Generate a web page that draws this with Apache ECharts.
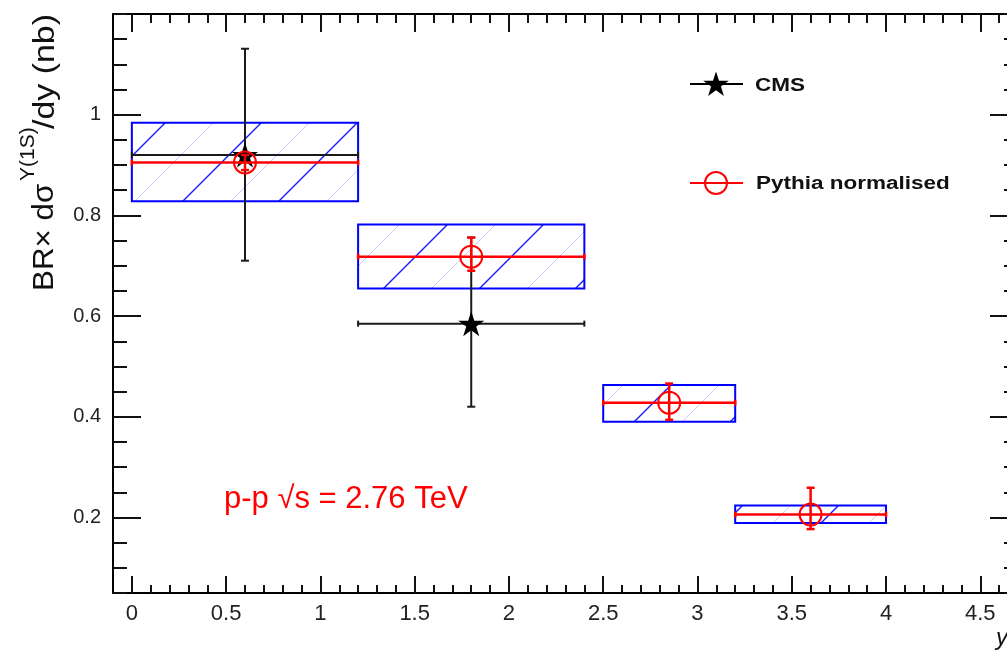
<!DOCTYPE html>
<html><head><meta charset="utf-8">
<script src="https://cdn.jsdelivr.net/npm/echarts@6/dist/echarts.min.js"></script>
<style>html,body{margin:0;padding:0;background:#fff}#c{width:1007px;height:652px}</style>
</head><body><div id="c"></div>
<script>
// ---- data ----
const binLow = [0, 1.2, 2.5, 3.2];
const binHigh = [1.2, 2.4, 3.2, 4.0];
const pythiaX = [0.6, 1.8, 2.85, 3.6];
const pythiaY = [0.905, 0.718, 0.428, 0.206];
const pythiaErrLow = [0.89, 0.69, 0.394, 0.177];
const pythiaErrHigh = [0.92, 0.756, 0.466, 0.259];
const sysLow = [0.828, 0.655, 0.390, 0.189];
const sysHigh = [0.984, 0.782, 0.463, 0.224];
const cmsX = [0.6, 1.8];
const cmsY = [0.92, 0.585];
const cmsXLow = [0, 1.2];
const cmsXHigh = [1.2, 2.4];
const cmsYLow = [0.71, 0.42];
const cmsYHigh = [1.131, 0.756];
const xMajorTicks = [0, 0.5, 1, 1.5, 2, 2.5, 3, 3.5, 4, 4.5];
const yMajorTicks = [0.2, 0.4, 0.6, 0.8, 1];
const xMin = -0.1, xMax = 4.7, yMin = 0.05, yMax = 1.2;
const xMinorTicks = []; for (let i = 0; i <= 47; i++) xMinorTicks.push(+(i * 0.1).toFixed(1));
const yMinorTicks = []; for (let i = 1; i <= 24; i++) yMinorTicks.push(+(i * 0.05).toFixed(2));

// ---- hatch pattern ----
function makeHatch() {
  const s = 96, c = document.createElement('canvas'); c.width = s; c.height = s;
  const g = c.getContext('2d');
  function ln(k, col, w) { g.strokeStyle = col; g.lineWidth = w; g.beginPath(); g.moveTo(-6, k + 6); g.lineTo(s + 6, k - s - 6); g.stroke(); }
  for (const k of [0, 96, 192]) ln(k, 'rgba(0,0,255,0.9)', 1.4);
  for (const k of [48, 144]) ln(k, 'rgba(0,0,255,0.2)', 1);
  return c;
}
const hatch = makeHatch();

const starPath = 'path://M0,-1L0.2245,-0.309L0.9511,-0.309L0.3633,0.118L0.5878,0.809L0,0.382L-0.5878,0.809L-0.3633,0.118L-0.9511,-0.309L-0.2245,-0.309Z';
function starPoints(cx, cy, R) {
  const pts = [];
  for (let k = 0; k < 10; k++) {
    const a = -Math.PI / 2 + k * Math.PI / 5, r = k % 2 ? R * 0.382 : R;
    pts.push([cx + r * Math.cos(a), cy + r * Math.sin(a)]);
  }
  return pts;
}
const FONT = 'Liberation Sans, Arial, sans-serif';

function axisX(pos, ticks, len, showLine, showLabel) {
  return { type: 'value', min: xMin, max: xMax, position: pos,
    axisLine: { show: showLine, onZero: false, lineStyle: { color: '#000', width: 2 } },
    axisTick: { show: true, inside: true, length: len, customValues: ticks, lineStyle: { color: '#111', width: 2 } },
    axisLabel: { show: showLabel, customValues: xMajorTicks, margin: 10, color: '#222', fontSize: 22, fontFamily: FONT },
    splitLine: { show: false } };
}
function axisY(pos, ticks, len, showLine, showLabel) {
  return { type: 'value', min: yMin, max: yMax, position: pos,
    axisLine: { show: showLine, onZero: false, lineStyle: { color: '#000', width: 2 } },
    axisTick: { show: true, inside: true, length: len, customValues: ticks, lineStyle: { color: '#111', width: 2 } },
    axisLabel: { show: showLabel, customValues: yMajorTicks, margin: 12, color: '#222', fontSize: 20, fontFamily: FONT },
    splitLine: { show: false } };
}

const chart = echarts.init(document.getElementById('c'), null, { renderer: 'canvas' });
chart.setOption({
  animation: false,
  backgroundColor: '#fff',
  grid: { left: 113, top: 14, width: 905, bottom: 59, containLabel: false, outerBoundsMode: 'none' },
  xAxis: [
    axisX('bottom', xMajorTicks, 17, true, true),
    axisX('bottom', xMinorTicks, 8, false, false),
    axisX('top', xMajorTicks, 18, true, false),
    axisX('top', xMinorTicks, 9, false, false)
  ],
  yAxis: [
    axisY('left', yMajorTicks, 28, true, true),
    axisY('left', yMinorTicks, 14, false, false),
    axisY('right', yMajorTicks, 28, true, false),
    axisY('right', yMinorTicks, 14, false, false)
  ],
  series: [
    { type: 'custom', name: 'syst', z: 1, xAxisIndex: 0, yAxisIndex: 0,
      data: binLow.map((v, i) => [v, binHigh[i], sysLow[i], sysHigh[i]]),
      encode: { x: [0, 1], y: [2, 3] },
      renderItem: function (params, api) {
        const p1 = api.coord([api.value(0), api.value(3)]);
        const p2 = api.coord([api.value(1), api.value(2)]);
        return { type: 'rect', shape: { x: p1[0], y: p1[1], width: p2[0] - p1[0], height: p2[1] - p1[1] },
          style: { fill: { image: hatch, repeat: 'repeat' }, stroke: '#0000ff', lineWidth: 2 } };
      } },
    { type: 'custom', name: 'CMS err', z: 2, xAxisIndex: 0, yAxisIndex: 0,
      data: cmsX.map((v, i) => [v, cmsY[i], cmsXLow[i], cmsXHigh[i], cmsYLow[i], cmsYHigh[i]]),
      encode: { x: [0, 2, 3], y: [1, 4, 5] },
      renderItem: function (params, api) {
        const l = api.coord([api.value(2), api.value(1)]);
        const r = api.coord([api.value(3), api.value(1)]);
        const lo = api.coord([api.value(0), api.value(4)]);
        const hi = api.coord([api.value(0), api.value(5)]);
        const st = { stroke: '#1a1a1a', lineWidth: 2 };
        const cap = 4;
        return { type: 'group', children: [
          { type: 'line', shape: { x1: l[0], y1: l[1], x2: r[0], y2: r[1] }, style: st },
          { type: 'line', shape: { x1: lo[0], y1: lo[1], x2: hi[0], y2: hi[1] }, style: st },
          { type: 'line', shape: { x1: lo[0] - cap, y1: lo[1], x2: lo[0] + cap, y2: lo[1] }, style: st },
          { type: 'line', shape: { x1: hi[0] - cap, y1: hi[1], x2: hi[0] + cap, y2: hi[1] }, style: st },
          { type: 'line', shape: { x1: l[0], y1: l[1] - 3, x2: l[0], y2: l[1] + 3 }, style: st },
          { type: 'line', shape: { x1: r[0], y1: r[1] - 3, x2: r[0], y2: r[1] + 3 }, style: st }
        ] };
      } },
    { type: 'scatter', name: 'CMS', z: 3, xAxisIndex: 0, yAxisIndex: 0,
      data: cmsX.map((v, i) => [v, cmsY[i]]),
      symbol: starPath, symbolSize: [26, 25], itemStyle: { color: '#000', opacity: 1 } },
    { type: 'custom', name: 'Pythia err', z: 4, xAxisIndex: 0, yAxisIndex: 0,
      data: pythiaX.map((v, i) => [v, pythiaY[i], binLow[i], binHigh[i], pythiaErrLow[i], pythiaErrHigh[i]]),
      encode: { x: [0, 2, 3], y: [1, 4, 5] },
      renderItem: function (params, api) {
        const l = api.coord([api.value(2), api.value(1)]);
        const r = api.coord([api.value(3), api.value(1)]);
        const lo = api.coord([api.value(0), api.value(4)]);
        const hi = api.coord([api.value(0), api.value(5)]);
        const st = { stroke: '#ff0000', lineWidth: 2.5 };
        const cap = 4;
        return { type: 'group', children: [
          { type: 'line', shape: { x1: l[0], y1: l[1], x2: r[0], y2: r[1] }, style: st },
          { type: 'line', shape: { x1: lo[0], y1: lo[1], x2: hi[0], y2: hi[1] }, style: st },
          { type: 'line', shape: { x1: lo[0] - cap, y1: lo[1], x2: lo[0] + cap, y2: lo[1] }, style: st },
          { type: 'line', shape: { x1: hi[0] - cap, y1: hi[1], x2: hi[0] + cap, y2: hi[1] }, style: st },
          { type: 'line', shape: { x1: l[0], y1: l[1] - 3, x2: l[0], y2: l[1] + 3 }, style: st },
          { type: 'line', shape: { x1: r[0], y1: r[1] - 3, x2: r[0], y2: r[1] + 3 }, style: st }
        ] };
      } },
    { type: 'scatter', name: 'Pythia normalised', z: 5, xAxisIndex: 0, yAxisIndex: 0,
      data: pythiaX.map((v, i) => [v, pythiaY[i]]),
      symbol: 'circle', symbolSize: 22,
      itemStyle: { color: 'rgba(0,0,0,0)', borderColor: '#ff0000', borderWidth: 2, opacity: 1 } }
  ],
  graphic: [
    // legend
    { type: 'line', shape: { x1: 690, y1: 84, x2: 743, y2: 84 }, style: { stroke: '#000', lineWidth: 2 }, z: 10 },
    { type: 'polygon', shape: { points: starPoints(716, 85, 13.5) }, style: { fill: '#000' }, z: 11 },
    { type: 'text', x: 755, y: 86, scaleX: 1.25, style: { text: 'CMS', fill: '#111', font: 'bold 18px ' + FONT, textVerticalAlign: 'middle' }, z: 10 },
    { type: 'line', shape: { x1: 690, y1: 183, x2: 743, y2: 183 }, style: { stroke: '#ff0000', lineWidth: 2 }, z: 10 },
    { type: 'circle', shape: { cx: 716, cy: 183, r: 11 }, style: { fill: 'none', stroke: '#ff0000', lineWidth: 2 }, z: 11 },
    { type: 'text', x: 756, y: 184, scaleX: 1.25, style: { text: 'Pythia normalised', fill: '#111', font: 'bold 18px ' + FONT, textVerticalAlign: 'middle' }, z: 10 },
    // annotation
    { type: 'text', x: 224, y: 499, style: { text: 'p-p \u221As = 2.76 TeV', fill: '#ff0000', font: '31px ' + FONT, textVerticalAlign: 'middle' }, z: 10 },
    // y title
    { type: 'text', x: 45, y: 291, rotation: Math.PI / 2, scaleX: 1.08, style: { text: 'BR\u00D7 d\u03C3', fill: '#111', font: '29px ' + FONT, textVerticalAlign: 'middle' }, z: 10 },
    { type: 'text', x: 28, y: 181, rotation: Math.PI / 2, style: { text: '\u03A5(1S)', fill: '#111', font: '21px ' + FONT, textVerticalAlign: 'middle' }, z: 10 },
    { type: 'text', x: 46, y: 129, rotation: Math.PI / 2, scaleX: 1.17, style: { text: '/dy (nb)', fill: '#111', font: '29px ' + FONT, textVerticalAlign: 'middle' }, z: 10 },
    // x title
    { type: 'text', x: 996, y: 638, style: { text: 'y', fill: '#111', font: 'italic 24px ' + FONT, textVerticalAlign: 'middle' }, z: 10 }
  ]
});
</script></body></html>
